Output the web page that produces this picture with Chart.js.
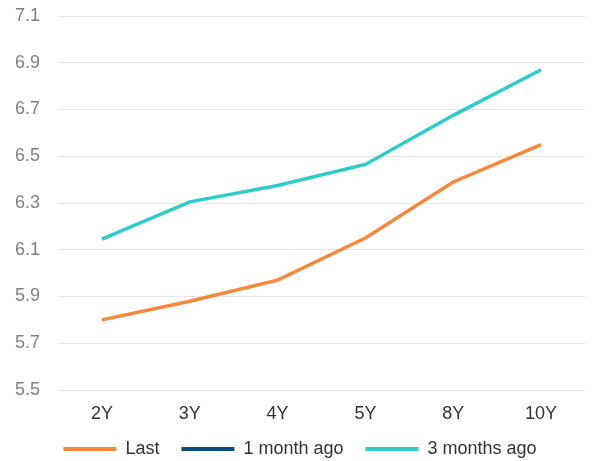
<!DOCTYPE html>
<html>
<head>
<meta charset="utf-8">
<script src="https://cdn.jsdelivr.net/npm/chart.js@4"></script>
<style>
  html, body { margin: 0; padding: 0; background: #ffffff; }
  #wrap { width: 592px; height: 461px; }
</style>
</head>
<body>
<div id="wrap"><canvas id="chart" width="592" height="461"></canvas></div>
<script>
// Yield curve by tenor
const tenors = ['2Y', '3Y', '4Y', '5Y', '8Y', '10Y'];
const last = [5.80, 5.88, 5.97, 6.15, 6.39, 6.55];
const oneMonthAgo = [null, null, null, null, null, null];
const threeMonthsAgo = [6.145, 6.305, 6.375, 6.465, 6.675, 6.87];

const font = "'Liberation Sans', Arial, sans-serif";

// Pulls the legend row a little closer to the bottom edge and lets the
// category labels run into the space above it without being clipped
const legendTrim = {
  id: 'legendTrim',
  beforeLayout(chart) {
    const lg = chart.legend;
    if (lg && !lg._trimmed) {
      lg._trimmed = true;
      const baseFit = lg.fit.bind(lg);
      lg.fit = function () {
        baseFit();
        this.height -= 7;
      };
    }
  },
  afterLayout(chart) {
    const x = chart.scales.x;
    if (x) x.bottom = x.top + 40;
  }
};

new Chart(document.getElementById('chart'), {
  type: 'line',
  data: {
    labels: tenors,
    datasets: [
      { label: 'Last', data: last, borderColor: '#F5883A', backgroundColor: '#F5883A',
        borderWidth: 3.5, pointRadius: 0, tension: 0 },
      { label: '1 month ago', data: oneMonthAgo, borderColor: '#0C4A85', backgroundColor: '#0C4A85',
        borderWidth: 3.5, pointRadius: 0, tension: 0 },
      { label: '3 months ago', data: threeMonthsAgo, borderColor: '#2ECBC9', backgroundColor: '#2ECBC9',
        borderWidth: 3.5, pointRadius: 0, tension: 0 }
    ]
  },
  plugins: [legendTrim],
  options: {
    responsive: false,
    animation: false,
    layout: { padding: { left: 15, right: 7, top: 16, bottom: 0 } },
    plugins: {
      tooltip: { enabled: false },
      legend: {
        position: 'bottom',
        labels: {
          font: { family: font, size: 18 },
          color: '#333333',
          boxWidth: 53,
          boxHeight: 4,
          padding: 22,
          generateLabels(chart) {
            return chart.data.datasets.map((ds, i) => ({
              text: ds.label,
              fillStyle: ds.borderColor,
              strokeStyle: ds.borderColor,
              lineWidth: 0,
              fontColor: '#333333',
              hidden: false,
              datasetIndex: i
            }));
          }
        }
      }
    },
    scales: {
      x: {
        offset: true,
        grid: { display: false, drawTicks: false },
        border: { display: false },
        ticks: { font: { family: font, size: 18 }, color: '#333333', padding: 13 },
        afterFit(scale) {
          scale.height = 28;
        }
      },
      y: {
        min: 5.5,
        max: 7.1,
        grid: { color: '#e6e6e6', lineWidth: 1, drawTicks: false },
        border: { display: false },
        ticks: {
          stepSize: 0.2,
          font: { family: font, size: 18 },
          color: '#808080',
          padding: 18,
          callback: v => v.toFixed(1)
        },
        afterFit(scale) {
          scale.width = 43;
          scale.paddingTop = 0;
          scale.paddingBottom = 0;
        }
      }
    }
  }
});
</script>
</body>
</html>
